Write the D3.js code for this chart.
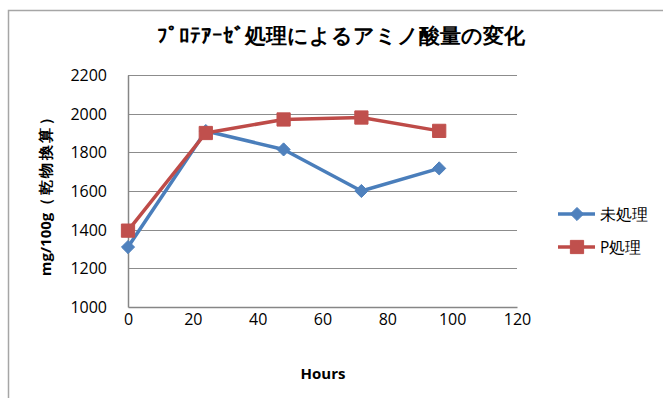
<!DOCTYPE html>
<html><head><meta charset="utf-8">
<script src="https://cdn.jsdelivr.net/npm/d3@7"></script>
<style>
html,body{margin:0;padding:0;background:#fff;}
svg{display:block;}
text{font-family:"Open Sans","Liberation Sans",sans-serif;}
</style></head>
<body>
<script>
const hours = [0, 24, 48, 72, 96];
const untreated = [1310, 1910, 1815, 1600, 1717];
const treatedP = [1395, 1900, 1970, 1980, 1911];
const seriesNames = ["未処理", "P処理"];
const xTicks = [0, 20, 40, 60, 80, 100, 120];
const yTicks = [1000, 1200, 1400, 1600, 1800, 2000, 2200];
const titleText = "ﾌﾟﾛﾃｱｰｾﾞ処理によるアミノ酸量の変化";
const yLabelLatin = "mg/100g";
const yLabelCJK = "（乾物換算）";
const xLabel = "Hours";

const W = 663, H = 398;
const svg = d3.select("body").append("svg").attr("width", W).attr("height", H);

// outer chart border
svg.append("rect").attr("x", 8.5).attr("y", 10.5).attr("width", 700).attr("height", 500)
  .attr("fill", "none").attr("stroke", "#a6a6a6").attr("stroke-width", 1.5);

const x = d3.scaleLinear().domain([0, 120]).range([128, 517]);
const y = d3.scaleLinear().domain([1000, 2200]).range([307, 75]);

// gridlines
svg.append("g").selectAll("line").data(yTicks.filter(v => v > 1000)).join("line")
  .attr("x1", x(0)).attr("x2", x(120))
  .attr("y1", d => Math.round(y(d)) + 0.5).attr("y2", d => Math.round(y(d)) + 0.5)
  .attr("stroke", "#8c8c8c").attr("stroke-width", 1);

// axes
const yAxis = d3.axisLeft(y).tickValues(yTicks).tickSize(0).tickPadding(21).tickFormat(d3.format("d"));
const gy = svg.append("g").attr("transform", `translate(${x(0)},0)`).call(yAxis);
const xAxis = d3.axisBottom(x).tickValues(xTicks).tickSize(0).tickPadding(7).tickFormat(d3.format("d"));
const gx = svg.append("g").attr("transform", `translate(0,${y(1000)})`).call(xAxis);
[gx, gy].forEach(g => {
  g.select(".domain").attr("stroke", "#868686").attr("stroke-width", 1.5);
  g.selectAll("text").attr("font-size", 16).attr("fill", "#000")
    .attr("font-family", '"Open Sans",sans-serif');
});
gy.selectAll("text").attr("dy", "0.35em");

// title
svg.append("text").attr("x", 341).attr("y", 43).attr("text-anchor", "middle")
  .attr("font-family", '"Noto Sans CJK JP",sans-serif').attr("font-weight", "900")
  .attr("font-size", 21).text(titleText);

// y label
const yl = svg.append("text").attr("transform", "translate(51,192) rotate(-90)").attr("text-anchor", "middle")
  .attr("font-family", '"Noto Sans CJK JP",sans-serif').attr("font-weight", "bold")
  .attr("font-size", 15);
yl.append("tspan").text(yLabelLatin);
yl.append("tspan").attr("letter-spacing", 2.5).text(yLabelCJK);

// x label
svg.append("text").attr("x", 323).attr("y", 379).attr("text-anchor", "middle")
  .attr("font-family", '"Open Sans",sans-serif').attr("font-weight", "bold")
  .attr("font-size", 15).text(xLabel);

const colors = ["#4a7ebb", "#be4b48"];
const fills = ["#4f81bd", "#c0504d"];
const data = [untreated, treatedP];
const line = d3.line().x((d, i) => x(hours[i])).y(d => y(d));
const symFor = si => si === 0 ? d3.symbol().type(d3.symbolDiamond2).size(110) : d3.symbol().type(d3.symbolSquare).size(175);

data.forEach((vals, si) => {
  svg.append("path").datum(vals).attr("d", line).attr("fill", "none")
    .attr("stroke", colors[si]).attr("stroke-width", 3.5).attr("stroke-linejoin", "round");
  svg.append("g").selectAll("path").data(vals).join("path")
    .attr("transform", (d, i) => `translate(${x(hours[i])},${y(d)})`)
    .attr("d", symFor(si)).attr("fill", fills[si]).attr("stroke", fills[si]).attr("stroke-width", 1);
});

// legend
const legY = [214, 247];
seriesNames.forEach((name, si) => {
  const g = svg.append("g");
  g.append("line").attr("x1", 558).attr("x2", 595).attr("y1", legY[si]).attr("y2", legY[si])
    .attr("stroke", colors[si]).attr("stroke-width", 3.5);
  g.append("path").attr("transform", `translate(577,${legY[si]})`).attr("d", symFor(si))
    .attr("fill", fills[si]).attr("stroke", fills[si]);
  g.append("text").attr("x", 600).attr("y", legY[si]).attr("dy", "0.36em")
    .attr("font-family", '"Noto Sans CJK JP",sans-serif').attr("font-size", 15.5).text(name);
});
</script>
</body></html>
